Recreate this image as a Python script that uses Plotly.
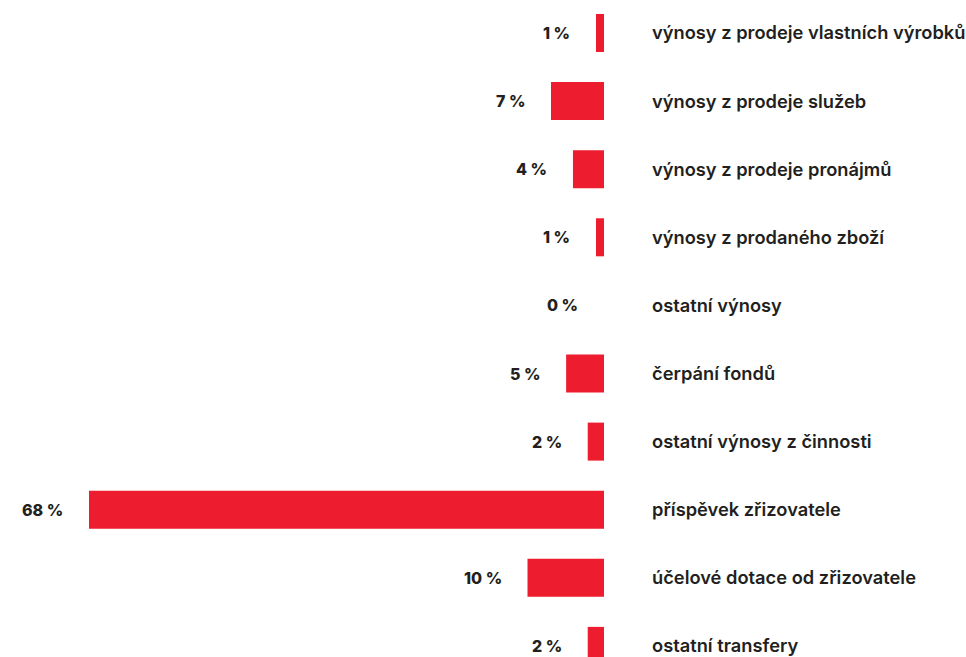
import plotly.graph_objects as go

categories = [
    "výnosy z prodeje vlastních výrobků",
    "výnosy z prodeje služeb",
    "výnosy z prodeje pronájmů",
    "výnosy z prodaného zboží",
    "ostatní výnosy",
    "čerpání fondů",
    "ostatní výnosy z činnosti",
    "příspěvek zřizovatele",
    "účelové dotace od zřizovatele",
    "ostatní transfery",
]
values = [1.06, 7.0, 4.1, 1.06, 0.0, 5.0, 2.15, 68.0, 10.1, 2.15]
value_labels = ["1 %", "7 %", "4 %", "1 %", "0 %", "5 %", "2 %", "68 %", "10 %", "2 %"]

RED = "#ED1C2E"
DARK = "#231F20"

fig = go.Figure()
fig.add_trace(go.Bar(
    x=values,
    y=categories,
    orientation="h",
    marker=dict(color=RED, line=dict(width=0)),
    width=0.558,
    hoverinfo="skip",
))

for v, c, t in zip(values, categories, value_labels):
    fig.add_annotation(
        x=v, y=c, text=t, showarrow=False,
        xanchor="right", yanchor="middle", xshift=-24,
        font=dict(family="Inter", size=16, color=DARK, weight=800),
    )

fig.update_layout(
    width=966, height=657,
    margin=dict(l=89, r=362, t=0, b=0),
    paper_bgcolor="white", plot_bgcolor="white",
    showlegend=False,
    xaxis=dict(range=[68.0, 0], visible=False, showgrid=False, zeroline=False),
    yaxis=dict(
        type="category",
        categoryorder="array", categoryarray=categories,
        range=[9.163, -0.4846],
        side="right",
        showgrid=False, zeroline=False, showline=False, ticks="",
        ticklabelstandoff=47,
        automargin=False,
        tickfont=dict(family="Inter", size=18.3, color=DARK, weight=600),
    ),
)

fig.write_html(
    "out.html",
    config={"displayModeBar": False},
    post_script="document.body.style.margin='0';document.body.style.overflow='hidden';",
)
